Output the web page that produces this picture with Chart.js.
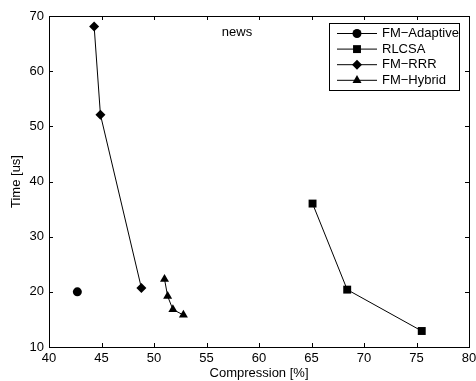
<!DOCTYPE html>
<html>
<head>
<meta charset="utf-8">
<script src="https://cdn.jsdelivr.net/npm/chart.js@4"></script>
<style>
  html, body { margin: 0; padding: 0; background: #fff; }
  #wrap { width: 476px; height: 381px; }
</style>
</head>
<body>
<div id="wrap"><canvas id="chart" width="476" height="381"></canvas></div>
<script>
// values
var seriesNames = ['FM\u2212Adaptive', 'RLCSA', 'FM\u2212RRR', 'FM\u2212Hybrid'];
var adaptiveX = [42.7];
var adaptiveY = [20.0];
var rlcsaX = [65.1, 68.4, 75.5];
var rlcsaY = [36.0, 20.4, 12.9];
var rrrX = [44.3, 44.9, 48.8];
var rrrY = [68.1, 52.1, 20.7];
var hybridX = [51.0, 51.3, 51.8, 52.8];
var hybridY = [22.3, 19.2, 16.8, 15.8];
var xTicks = [40, 45, 50, 55, 60, 65, 70, 75, 80];
var yTicks = [10, 20, 30, 40, 50, 60, 70];

function pts(xs, ys) {
    return xs.map(function(x, i) { return {x: x, y: ys[i]}; });
}

var styles = [
    {pointStyle: 'circle', r: 4.5},
    {pointStyle: 'rect', r: 5.6},
    {pointStyle: 'rectRot', r: 5},
    {pointStyle: 'triangle', r: 5.2}
];
var allData = [pts(adaptiveX, adaptiveY), pts(rlcsaX, rlcsaY), pts(rrrX, rrrY), pts(hybridX, hybridY)];

var datasets = allData.map(function(d, i) {
    return {
        label: seriesNames[i],
        data: d,
        showLine: true,
        borderColor: '#000',
        borderWidth: 1,
        backgroundColor: '#000',
        pointStyle: styles[i].pointStyle,
        pointRadius: styles[i].r,
        pointBorderWidth: 0,
        pointBackgroundColor: '#000'
    };
});

var font = {family: '"Liberation Sans", Arial, sans-serif', size: 13};

// box around the axes, inward ticks on all four sides, title and legend
var framePlugin = {
    id: 'frame',
    afterDatasetsDraw: function(chart) {
        var ctx = chart.ctx, a = chart.chartArea;
        var xs = chart.scales.x, ys = chart.scales.y;
        ctx.save();
        ctx.strokeStyle = '#000';
        ctx.lineWidth = 1;
        ctx.strokeRect(Math.round(a.left) + 0.5, Math.round(a.top) + 0.5,
            Math.round(a.right - a.left), Math.round(a.bottom - a.top));
        ctx.beginPath();
        xTicks.forEach(function(v) {
            var px = Math.round(xs.getPixelForValue(v)) + 0.5;
            ctx.moveTo(px, a.bottom); ctx.lineTo(px, a.bottom - 4);
            ctx.moveTo(px, a.top); ctx.lineTo(px, a.top + 4);
        });
        yTicks.forEach(function(v) {
            var py = Math.round(ys.getPixelForValue(v)) + 0.5;
            ctx.moveTo(a.left, py); ctx.lineTo(a.left + 4, py);
            ctx.moveTo(a.right, py); ctx.lineTo(a.right - 4, py);
        });
        ctx.stroke();

        // title inside the axes
        ctx.fillStyle = '#000';
        ctx.font = '13px ' + font.family;
        ctx.textAlign = 'center';
        ctx.textBaseline = 'middle';
        ctx.fillText('news', 237, 32);

        // legend
        var lx = 329, ly = 23, lw = 130, lh = 67;
        ctx.fillStyle = '#fff';
        ctx.fillRect(lx, ly, lw, lh);
        ctx.strokeRect(lx + 0.5, ly + 0.5, lw, lh);
        ctx.textAlign = 'left';
        chart.data.datasets.forEach(function(ds, i) {
            var y = 33.5 + i * 15.6;
            ctx.beginPath();
            ctx.moveTo(337, y); ctx.lineTo(377, y);
            ctx.stroke();
            ctx.fillStyle = '#000';
            Chart.helpers.drawPoint(ctx, {pointStyle: ds.pointStyle, radius: ds.pointRadius, rotation: 0, borderWidth: 0}, 357, y);
            ctx.fillStyle = '#000';
            ctx.fillText(ds.label, 382, y);
        });
        ctx.restore();
    }
};

new Chart(document.getElementById('chart').getContext('2d'), {
    type: 'scatter',
    data: {datasets: datasets},
    options: {
        responsive: false,
        animation: false,
        layout: {padding: {top: 16, right: 7, left: 0, bottom: 0}},
        plugins: {legend: {display: false}, tooltip: {enabled: false}},
        scales: {
            x: {
                type: 'linear',
                min: 40, max: 80,
                afterFit: function(scale) {
                    scale.height = 34;
                    scale.paddingLeft = 0;
                    scale.paddingRight = 0;
                },
                afterBuildTicks: function(scale) { scale.ticks = xTicks.map(function(v) { return {value: v}; }); },
                grid: {display: false, drawTicks: false},
                border: {display: false},
                ticks: {color: '#000', font: font, padding: 4, maxRotation: 0},
                title: {display: true, text: 'Compression [%]', color: '#000', font: font, padding: {top: 0, bottom: 0}}
            },
            y: {
                type: 'linear',
                min: 10, max: 70,
                afterFit: function(scale) {
                    scale.width = 49;
                    scale.paddingTop = 0;
                    scale.paddingBottom = 0;
                },
                afterBuildTicks: function(scale) { scale.ticks = yTicks.map(function(v) { return {value: v}; }); },
                grid: {display: false, drawTicks: false},
                border: {display: false},
                ticks: {color: '#000', font: font, padding: 5},
                title: {display: true, text: 'Time [us]', color: '#000', font: font, padding: {top: 9, bottom: 0}}
            }
        }
    },
    plugins: [framePlugin]
});
</script>
</body>
</html>
